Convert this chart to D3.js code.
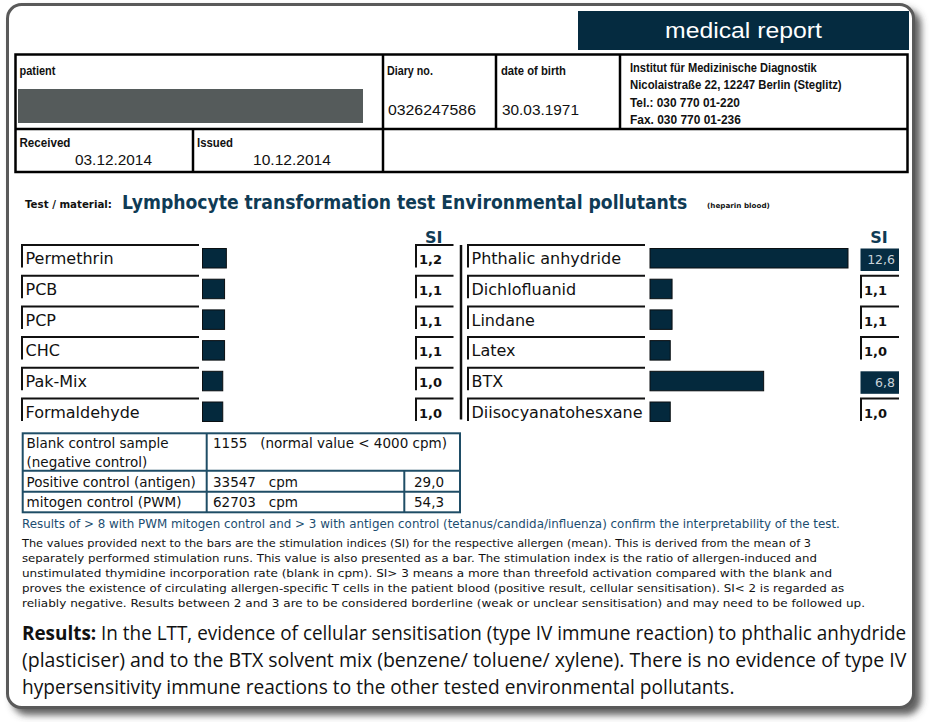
<!DOCTYPE html>
<html><head><meta charset="utf-8">
<script src="https://cdn.jsdelivr.net/npm/d3@7"></script>
<style>body{margin:0;background:#fff}svg{display:block}</style>
</head><body>
<svg id="c" width="930" height="722"></svg>
<script>
// ---- data ----
const leftLabels  = ["Permethrin","PCB","PCP","CHC","Pak-Mix","Formaldehyde"];
const leftSI      = [1.2, 1.1, 1.1, 1.1, 1.0, 1.0];
const rightLabels = ["Phthalic anhydride","Dichlofluanid","Lindane","Latex","BTX","Diisocyanatohesxane"];
const rightSI     = [12.6, 1.1, 1.1, 1.0, 6.8, 1.0];
const positiveThreshold = 3;
const controlLabels = [["Blank control sample","(negative control)"],["Positive control (antigen)"],["mitogen control (PWM)"]];
const controlCpm    = ["1155   (normal value < 4000 cpm)","33547   cpm","62703   cpm"];
const controlSI     = [null, 29.0, 54.3];
const headerInstitute = ["Institut für Medizinische Diagnostik","Nicolaistraße 22, 12247 Berlin (Steglitz)","Tel.: 030 770 01-220","Fax. 030 770 01-236"];
const infoLines = [
 "The values provided next to the bars are the stimulation indices (SI) for the respective allergen (mean). This is derived from the mean of 3",
 "separately performed stimulation runs. This value is also presented as a bar. The stimulation index is the ratio of allergen-induced and",
 "unstimulated thymidine incorporation rate (blank in cpm). SI> 3 means a more than threefold activation compared with the blank and",
 "proves the existence of circulating allergen-specific T cells in the patient blood (positive result, cellular sensitisation). SI< 2 is regarded as",
 "reliably negative. Results between 2 and 3 are to be considered borderline (weak or unclear sensitisation) and may need to be followed up."
];
const resultLines = [
 ["Results:", " In the LTT, evidence of cellular sensitisation (type IV immune reaction) to phthalic anhydride"],
 ["", "(plasticiser) and to the BTX solvent mix (benzene/ toluene/ xylene). There is no evidence of type IV"],
 ["", "hypersensitivity immune reactions to the other tested environmental pollutants."]
];

// ---- styles ----
const NAVY = "#04293d", TITLE = "#0f3b55", TBL = "#1f4d66";
const GOTH = "'DejaVu Sans', sans-serif";
const NARROW = "'Liberation Sans Narrow','Liberation Sans',Arial,sans-serif";
const ARIAL = "'Liberation Sans',Arial,sans-serif";
const CAL = "'Open Sans','Noto Sans',sans-serif";
const fmt = v => d3.format(".1f")(v).replace(".", ",");

const svg = d3.select("#c");
const defs = svg.append("defs");
const f = defs.append("filter").attr("id","sh").attr("x","-5%").attr("y","-5%").attr("width","115%").attr("height","115%");
f.append("feDropShadow").attr("dx",6).attr("dy",6).attr("stdDeviation",3.5).attr("flood-color","#444").attr("flood-opacity",0.85);

// horizontally fit a text element to a target width (scale about its x)
function fit(t, x, target, anchor) {
  const nat = t.node().getComputedTextLength();
  if (!nat) return;
  const s = target / nat;
  t.attr("transform", `translate(${x},0) scale(${s},1) translate(${-x},0)`);
}

function txt(g, x, y, s, o = {}) {
  const t = g.append("text").attr("x", x).attr("y", y).text(s)
    .attr("font-family", o.ff || GOTH).attr("font-size", o.fs || 13)
    .attr("font-weight", o.fw || "normal").attr("fill", o.fill || "#111");
  if (o.anchor) t.attr("text-anchor", o.anchor);
  if (o.w) fit(t, x, o.w);
  return t;
}

// frame
svg.append("rect").attr("x",7.5).attr("y",4.5).attr("width",906).attr("height",703).attr("rx",14)
  .attr("fill","#fff").attr("stroke","#5a5a5a").attr("stroke-width",3).attr("filter","url(#sh)");

// header box
svg.append("rect").attr("x",578).attr("y",11).attr("width",331).attr("height",39).attr("fill","#052b40");
txt(svg, 743.5, 38, "medical report", {ff:ARIAL, fs:22, fill:"#fff", anchor:"middle", w:157});

// patient table
const ht = svg.append("g").attr("stroke","#000").attr("stroke-width",2.5).attr("fill","none");
ht.append("rect").attr("x",15.5).attr("y",54.5).attr("width",892).attr("height",117.5);
ht.append("line").attr("x1",15.5).attr("x2",907.5).attr("y1",129).attr("y2",129);
[383,496,620].forEach(x => ht.append("line").attr("x1",x).attr("x2",x).attr("y1",54.5).attr("y2",129));
[193,383].forEach(x => ht.append("line").attr("x1",x).attr("x2",x).attr("y1",129).attr("y2",172));
svg.append("rect").attr("x",18).attr("y",89).attr("width",345).attr("height",34).attr("fill","#555b5b");
const H = {ff:NARROW, fs:13, fw:"600"};
txt(svg, 19.5, 75, "patient", {...H, w:36});
txt(svg, 387, 75, "Diary no.", {...H, w:46});
txt(svg, 501, 75, "date of birth", {...H, w:65});
txt(svg, 388, 115, "0326247586", {ff:ARIAL, fs:15.5, w:88});
txt(svg, 502, 115, "30.03.1971", {ff:ARIAL, fs:15.5, w:77});
const instW = [187, 212, 110, 111];
headerInstitute.forEach((s,i) => txt(svg, 630, 72 + i*17.5, s, {ff:NARROW, fs:12.5, fw:"600", w:instW[i]}));
txt(svg, 19.5, 147, "Received", {...H, w:51});
txt(svg, 197, 147, "Issued", {...H, w:36});
txt(svg, 75, 165, "03.12.2014", {ff:ARIAL, fs:15.5, w:77});
txt(svg, 253, 165, "10.12.2014", {ff:ARIAL, fs:15.5, w:78});

// title
txt(svg, 25, 208.5, "Test / material:", {fs:11, fw:"bold", w:87});
txt(svg, 122, 209, "Lymphocyte transformation test Environmental pollutants", {fs:19.5, fw:"bold", fill:TITLE, w:566});
txt(svg, 707, 208, "(heparin blood)", {fs:7, fw:"bold", w:63});

// ---- bar chart ----
const y = d3.scaleBand().domain(d3.range(leftLabels.length)).range([245, 245 + 6*30.7]).paddingInner(0);
const w = d3.scalePow().exponent(0.9).domain([0, 12.6]).range([0, 198]);

function column(labels, vals, o) {
  const g = svg.append("g");
  const rows = g.selectAll("g.row").data(labels.map((l,i) => ({l, v: vals[i], i}))).join("g").attr("class","row");
  rows.append("path").attr("d", d => `M${o.lx0},${y(d.i)+22.5}V${y(d.i)}H${o.lx1}`)
    .attr("fill","none").attr("stroke","#111").attr("stroke-width",2);
  rows.append("text").attr("x", o.lx0 + 3.5).attr("y", d => y(d.i) + 19.3).text(d => d.l)
    .attr("font-family", GOTH).attr("font-size", 16).attr("fill","#111");
  rows.append("rect").attr("x", o.bx).attr("y", d => y(d.i) + 3.5).attr("width", d => w(d.v)).attr("height", 19.5)
    .attr("fill", NAVY).attr("stroke","#0a0f12").attr("stroke-width",1);
  rows.filter(d => d.v > positiveThreshold).append("rect")
    .attr("x", o.sx0 - 0.5).attr("y", d => y(d.i) + 3.5).attr("width", o.sx1 - o.sx0 + 0.5).attr("height", 22.5).attr("fill", "#062c42");
  rows.filter(d => d.v <= positiveThreshold).append("path")
    .attr("d", d => `M${o.sx0},${y(d.i)+22.5}V${y(d.i)}H${o.sx1}`)
    .attr("fill","none").attr("stroke","#111").attr("stroke-width",2);
  rows.append("text").attr("x", d => d.v > positiveThreshold ? o.sx1 - 4 : o.sx0 + 3)
    .attr("text-anchor", d => d.v > positiveThreshold ? "end" : "start")
    .attr("y", d => y(d.i) + 19.3).text(d => fmt(d.v))
    .attr("font-family", GOTH).attr("font-size", d => d.v > positiveThreshold ? 12.5 : 13)
    .attr("font-weight", d => d.v > positiveThreshold ? "normal" : "bold")
    .attr("fill", d => d.v > positiveThreshold ? "#c9d2d8" : "#111");
  txt(svg, (o.sx0 + o.sx1)/2 - 1, 243, "SI", {fs:16, fw:"bold", fill:TITLE, anchor:"middle"});
}
column(leftLabels, leftSI, {lx0:22, lx1:199, bx:202.5, sx0:416, sx1:453.5});
column(rightLabels, rightSI, {lx0:468, lx1:645, bx:650, sx0:861, sx1:899});
svg.append("line").attr("x1",461).attr("x2",461).attr("y1",245).attr("y2",419.5).attr("stroke","#111").attr("stroke-width",2.5);

// ---- control table ----
const ct = svg.append("g").attr("stroke",TBL).attr("stroke-width",2).attr("fill","none");
ct.append("rect").attr("x",22.7).attr("y",433.3).attr("width",437.3).attr("height",79);
[470.7, 491.7].forEach(yy => ct.append("line").attr("x1",22.7).attr("x2",460).attr("y1",yy).attr("y2",yy));
ct.append("line").attr("x1",206.7).attr("x2",206.7).attr("y1",433.3).attr("y2",512.3);
ct.append("line").attr("x1",404.3).attr("x2",404.3).attr("y1",470.7).attr("y2",512.3);
const ctBase = [447.7, 487, 507];
controlLabels.forEach((ls,i) => ls.forEach((s,j) => txt(svg, 26.5, ctBase[i] + j*19, s, {fs:13.5})));
controlCpm.forEach((s,i) => txt(svg, 213, ctBase[i], s.replace(/ /g,"\u00a0"), {fs:13.5}));
controlSI.forEach((v,i) => { if (v != null) txt(svg, 414, ctBase[i], fmt(v), {fs:13.5}); });

// ---- notes ----
txt(svg, 22, 528, "Results of > 8 with PWM mitogen control and > 3 with antigen control (tetanus/candida/influenza) confirm the interpretability of the test.",
  {fs:11.5, fill:"#1c4d70", w:819});
const infoW = [790, 796, 811, 823, 844];
infoLines.forEach((s,i) => txt(svg, 22, 547 + i*15, s, {fs:11, w:infoW[i]}));

// ---- results ----
const resW = [885, 885, 713];
resultLines.forEach((p,i) => {
  const t = svg.append("text").attr("x", 22).attr("y", 640 + i*27).attr("font-family", CAL).attr("font-size", 19.5).attr("fill","#111");
  if (p[0]) t.append("tspan").attr("font-weight","bold").text(p[0]);
  t.append("tspan").text(p[1]);
  fit(t, 22, resW[i]);
});
</script>
</body></html>
